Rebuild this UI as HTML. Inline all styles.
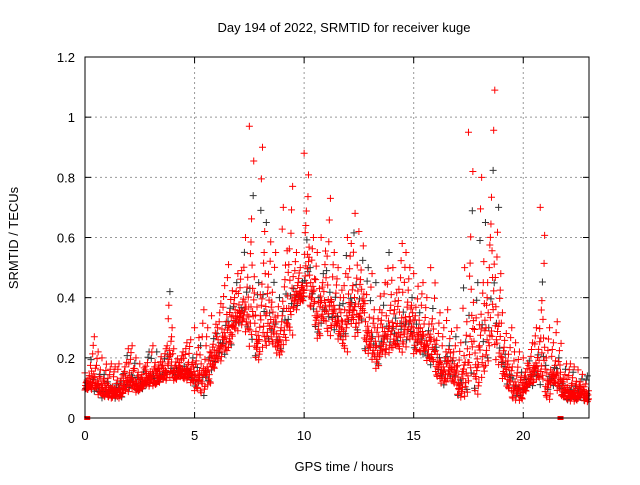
<!DOCTYPE html>
<html><head><meta charset="utf-8"><style>
body{margin:0;background:#fff}
svg text{font-family:"Liberation Sans",sans-serif;font-size:13px;fill:#000}
</style></head><body>
<svg id="chart" width="640" height="480">
<text x="344" y="32" text-anchor="middle">Day 194 of 2022, SRMTID for receiver kuge</text>
<text x="344" y="471" text-anchor="middle">GPS time / hours</text>
<text transform="translate(18,238) rotate(-90)" text-anchor="middle">SRMTID / TECUs</text>
<g id="grid"></g><g id="marks"></g><g id="axes"></g>
</svg>
<script>
const xTicks=[0,5,10,15,20];
const yTicks=[0,0.2,0.4,0.6,0.8,1,1.2];
const yTickLabels=["0","0.2","0.4","0.6","0.8","1","1.2"];
const binTimes=[];for(let i=0;i<92;i++)binTimes.push(i*0.25);
const binLow=[.09,.08,.07,.06,.06,.06,.06,.08,.09,.08,.09,.10,.10,.11,.12,.12,.12,.13,.12,.11,.08,.06,.10,.15,.18,.20,.22,.28,.30,.27,.20,.18,.20,.22,.22,.20,.22,.25,.35,.38,.40,.35,.25,.30,.25,.28,.25,.20,.30,.25,.30,.20,.18,.15,.20,.20,.22,.20,.22,.25,.20,.20,.18,.16,.12,.10,.12,.10,.06,.05,.08,.06,.10,.15,.20,.15,.12,.08,.05,.05,.08,.10,.12,.08,.05,.10,.08,.06,.05,.05,.06,.05];
const binHigh=[.15,.27,.22,.20,.18,.17,.18,.23,.24,.20,.18,.22,.24,.22,.23,.42,.23,.22,.25,.26,.30,.36,.30,.34,.38,.44,.51,.48,.49,.60,.97,.45,.90,.65,.55,.40,.70,.77,.55,.50,.88,.60,.55,.60,.73,.55,.50,.60,.58,.68,.62,.50,.48,.45,.45,.55,.50,.58,.55,.50,.48,.45,.40,.50,.35,.30,.36,.30,.25,.50,.95,.45,.80,.65,1.09,.70,.35,.30,.25,.22,.20,.25,.30,.70,.30,.25,.32,.18,.18,.17,.16,.14];
const zeroTimes=[0.1,21.7];
const X0=85,X1=589,Y0=418,Y1=57;
const xs=t=>X0+t*(X1-X0)/23.0;
const ys=v=>Y0-v*(Y0-Y1)/1.2;
const NS="http://www.w3.org/2000/svg";
function mk(tag,attrs,parent){const e=document.createElementNS(NS,tag);for(const k in attrs)e.setAttribute(k,attrs[k]);parent.appendChild(e);return e;}
const grid=document.getElementById('grid'),marks=document.getElementById('marks'),axes=document.getElementById('axes');
xTicks.forEach((t,i)=>{
 const x=xs(t);
 if(t>0){const g=mk('line',{x1:x,x2:x,y1:Y1,y2:Y0,stroke:'#999','stroke-dasharray':'2,3','stroke-width':1},grid);
 
 }
 const tx=mk('text',{x:x,y:Y0+22,'text-anchor':'middle'},axes);tx.textContent=String(t);
 
 
 mk('line',{x1:x,x2:x,y1:Y0,y2:Y0-6,stroke:'#000'},axes);
 mk('line',{x1:x,x2:x,y1:Y1,y2:Y1+6,stroke:'#000'},axes);
});
yTicks.forEach((v,i)=>{
 const y=ys(v);
 if(v>0&&v<1.2){const g=mk('line',{x1:X0,x2:X1,y1:y,y2:y,stroke:'#999','stroke-dasharray':'2,3','stroke-width':1},grid);
 
 }
 const tx=mk('text',{x:X0-10,y:y+5,'text-anchor':'end'},axes);tx.textContent=yTickLabels[i];
 
 
 mk('line',{x1:X0,x2:X0+6,y1:y,y2:y,stroke:'#000'},axes);
 mk('line',{x1:X1,x2:X1-6,y1:y,y2:y,stroke:'#000'},axes);
});
const fr=mk('rect',{x:X0,y:Y1,width:X1-X0,height:Y0-Y1,fill:'none',stroke:'#000'},axes);


const pat=[0.05,0.3,0.15,0.5,0.1,0.4,0.2,0.7,0.25,0.35,1.0,0.12,0.45,0.22,0.6,0.08,0.3,0.18,0.85,0.28];
let d='',dk='';
binTimes.forEach((t,i)=>{
 const lo=binLow[i],hi=binHigh[i];
 for(let k=0;k<20;k++){
  const tt=t+(k%10)*0.025;
  const f=pat[(k+i*3)%20];
  const v=lo+(hi-lo)*f;
  const x=xs(tt),y=ys(v);
  const s=`M${x-3.5},${y}h7M${x},${y-3.5}v7`;
  if(k%6===5)dk+=s;else d+=s;
 }
});
const pk=mk('path',{d:dk,stroke:'#333','stroke-width':1,fill:'none'},marks);


const pr=mk('path',{d:d,stroke:'#f00','stroke-width':1,fill:'none'},marks);


zeroTimes.forEach(t=>{
 const r=mk('rect',{x:xs(t)-3,y:Y0-2,width:6,height:4,fill:'#f00'},marks);
 
 
});
</script>
</body></html>
